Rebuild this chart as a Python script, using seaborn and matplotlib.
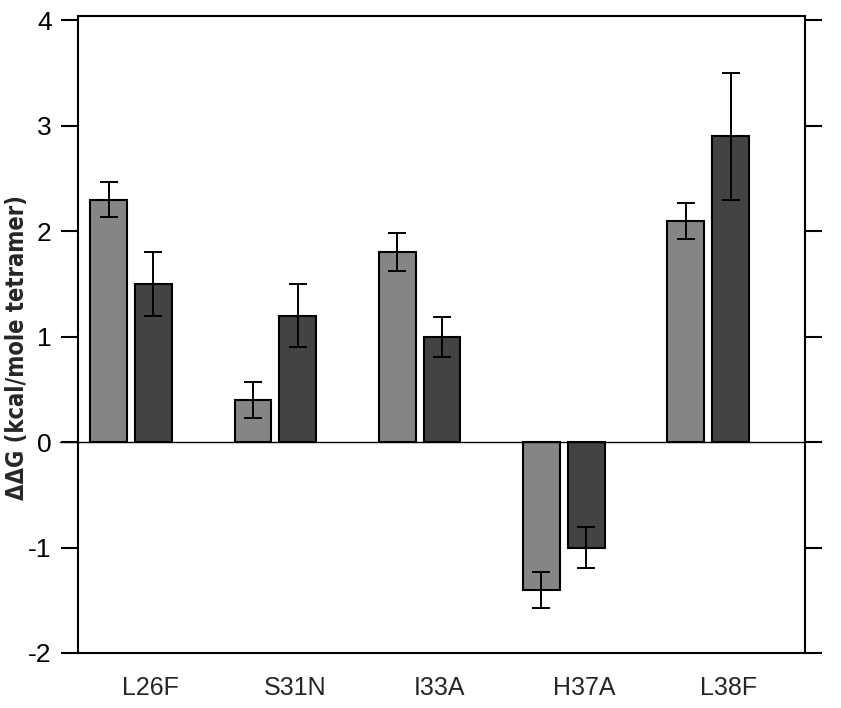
import numpy as np
import pandas as pd
import seaborn as sns
import matplotlib.pyplot as plt
from matplotlib.transforms import ScaledTranslation

# values
mutants = ["L26F", "S31N", "I33A", "H37A", "L38F"]
light_vals = [2.3, 0.4, 1.8, -1.4, 2.1]
light_err = [0.17, 0.17, 0.18, 0.17, 0.17]
dark_vals = [1.5, 1.2, 1.0, -1.0, 2.9]
dark_err = [0.3, 0.3, 0.19, 0.19, 0.6]
series = ["a", "b"]
yticks = [-2, -1, 0, 1, 2, 3, 4]

df = pd.DataFrame({
    "mutant": mutants * 2,
    "ddg": light_vals + dark_vals,
    "err": light_err + dark_err,
    "series": [series[0]] * 5 + [series[1]] * 5,
})

sns.set_style("white")
plt.rcParams["font.family"] = ["Liberation Sans", "DejaVu Sans"]
plt.rcParams["axes.unicode_minus"] = False

fig = plt.figure(figsize=(8.41, 7.08), dpi=100)
ax = fig.add_axes([0.0927, 0.0777, 0.8643, 0.8997])

sns.barplot(data=df, x="mutant", y="ddg", hue="series", order=mutants,
            hue_order=series, palette=["#858585", "#434343"], width=0.62,
            gap=0.18, errorbar=None, edgecolor="black", linewidth=1.5,
            legend=False, ax=ax)

# error bars at the bar centres seaborn produced
bars = ax.patches
for b, (_, row) in zip(bars, df.iterrows()):
    xc = b.get_x() + b.get_width() / 2
    ax.errorbar(xc, row["ddg"], yerr=row["err"], fmt="none", ecolor="black",
                elinewidth=1.4, capsize=6.5, capthick=1.4, zorder=5)

ax.axhline(0, color="black", lw=1, zorder=4, clip_on=False,
           xmin=-0.025, xmax=1)

ax.set_xlim(-0.367, 4.67)
ax.set_ylim(-2.0, 4.04)
ax.set_yticks(yticks)
ax.set_yticklabels([str(t) for t in yticks])
ax.set_xlabel("")
ax.set_ylabel("ΔΔG (kcal/mole tetramer)", fontsize=17, fontweight="bold",
              family="DejaVu Sans", fontstretch="condensed")
ax.yaxis.set_label_coords(-0.068, 0.48)

for s in ax.spines.values():
    s.set_visible(True)
    s.set_color("black")
    s.set_linewidth(1.5)

ax.tick_params(axis="y", left=True, right=True, direction="out", length=12,
               width=1.5, labelsize=19, pad=7, colors="black")
ax.tick_params(axis="x", bottom=False, labelsize=18, pad=13)

shift = ScaledTranslation(0.2, 0, fig.dpi_scale_trans)
for lab in ax.get_xticklabels():
    lab.set_transform(lab.get_transform() + shift)

fig.savefig("out.png", dpi=100)
